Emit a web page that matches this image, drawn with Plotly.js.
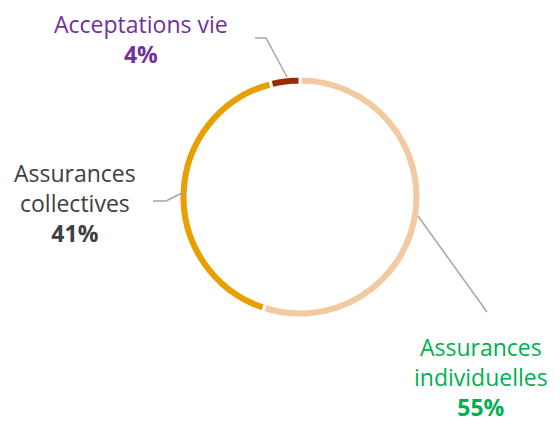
<!DOCTYPE html>
<html>
<head>
<meta charset="utf-8">
<script src="https://cdn.plot.ly/plotly-3.0.1.min.js"></script>
<style>
  html, body { margin: 0; padding: 0; background: #fff; }
  #chart { width: 560px; height: 424px; }
</style>
</head>
<body>
<div id="chart"></div>
<script>
    // Segments, clockwise from 12 o'clock
    var categories = ['Assurances individuelles', 'Assurances collectives', 'Acceptations vie'];
    var shares = [55, 41, 4];
    var colors = ['#F2C9A1', '#E89F00', '#9A2B00'];
    var labelColors = ['#00B050', '#404040', '#7030A0'];

    var W = 560, H = 424;
    function px(x) { return x / W; }
    function py(y) { return 1 - y / H; }

    var trace = {
        type: 'pie',
        labels: categories,
        values: shares,
        sort: false,
        direction: 'clockwise',
        rotation: 0,
        hole: 0.925,
        textinfo: 'none',
        hoverinfo: 'label+percent',
        marker: { colors: colors, line: { color: '#ffffff', width: 3 } },
        domain: { x: [px(179), px(421)], y: [py(318), py(76)] },
        showlegend: false
    };

    // One multi-line label per segment: name words, then the bold share
    var labelX = [481, 75, 141];
    var labelMid = [377, 203, 39];

    var annotations = categories.map(function (c, i) {
        var lines = c === 'Acceptations vie' ? [c] : c.split(' ');
        return {
            xref: 'paper', yref: 'paper',
            x: px(labelX[i]), y: py(labelMid[i]),
            xanchor: 'center', yanchor: 'middle',
            align: 'center',
            text: lines.join('<br>') + '<br><b>' + shares[i] + '%</b>',
            showarrow: false,
            font: { family: 'Open Sans, DejaVu Sans, sans-serif', size: 23, color: labelColors[i] }
        };
    });

    // Leader lines
    function path(pts) {
        return 'M' + pts.map(function (p) { return px(p[0]) + ',' + py(p[1]); }).join(' L');
    }
    var leaders = [
        [[418, 216], [487, 312]],
        [[153, 201], [166, 201], [184, 192]],
        [[255, 38], [266, 38], [287, 77]]
    ];
    var shapes = leaders.map(function (pts) {
        return {
            type: 'path', xref: 'paper', yref: 'paper',
            path: path(pts),
            line: { color: '#A6A6A6', width: 1.5 }
        };
    });

    var layout = {
        width: W,
        height: H,
        margin: { t: 0, r: 0, b: 0, l: 0 },
        annotations: annotations,
        shapes: shapes,
        paper_bgcolor: '#ffffff',
        plot_bgcolor: '#ffffff'
    };

    Plotly.newPlot('chart', [trace], layout, { displayModeBar: false, staticPlot: true });
</script>
</body>
</html>
